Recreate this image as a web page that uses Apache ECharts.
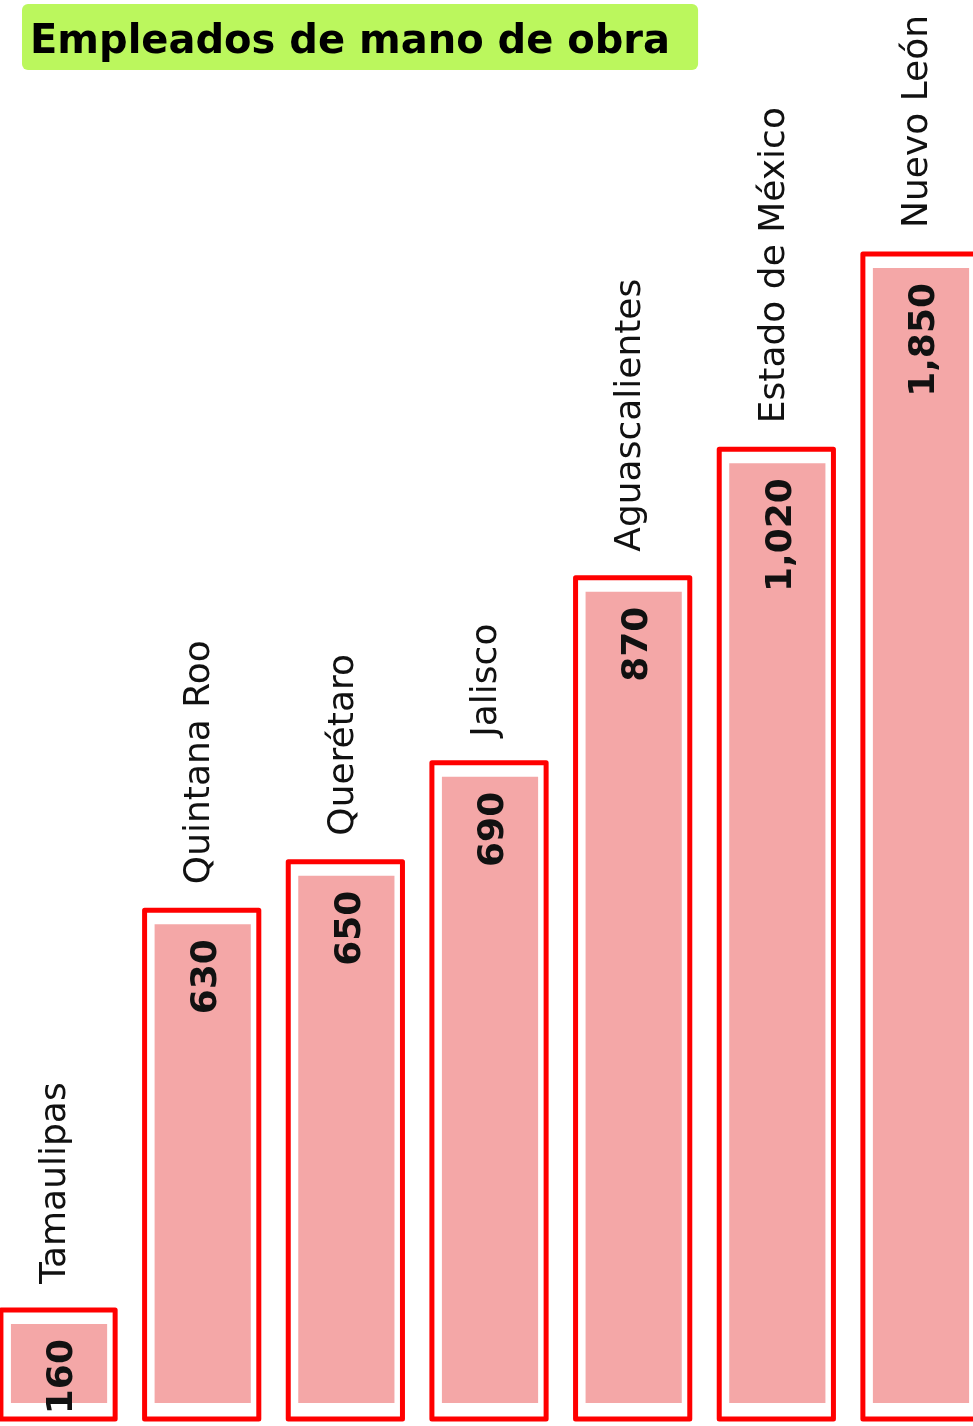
<!DOCTYPE html>
<html>
<head>
<meta charset="utf-8">
<script src="https://cdn.jsdelivr.net/npm/echarts@6/dist/echarts.min.js"></script>
<style>
  html, body { margin: 0; padding: 0; background: #ffffff; }
  #chart { width: 973px; height: 1426px; }
</style>
</head>
<body>
<div id="chart"></div>
<script>
// Categories (states)
var categories = ['Tamaulipas', 'Quintana Roo', 'Querétaro', 'Jalisco', 'Aguascalientes', 'Estado de México', 'Nuevo León'];
// Labelled values (number of labour employees)
var values = [160, 630, 650, 690, 870, 1020, 1850];
// Drawn bar heights (same scale as Nuevo León = 1850)
var drawnHeights = [173, 808, 885, 1042, 1336, 1540, 1850];
var chartTitle = 'Empleados de mano de obra';

function fmt(v) { return v.toLocaleString('en-US'); }

var chart = echarts.init(document.getElementById('chart'), null, { renderer: 'canvas' });

function renderItem(params, api) {
  var cat = api.value(0);
  var h = api.value(1);
  var top = api.coord([cat, h]);
  var base = api.coord([cat, 0]);
  var band = api.size([1, 0])[0];
  var w = band * 0.795;
  var x0 = top[0] - w / 2;
  var idx = params.dataIndex;
  var hh = base[1] - top[1];
  return {
    type: 'group',
    children: [
      {
        type: 'rect',
        shape: { x: x0 + 10, y: top[1] + 14, width: w - 18, height: hh - 30 },
        style: { fill: '#f4a7a7' }
      },
      {
        type: 'rect',
        shape: { x: x0, y: top[1], width: w, height: hh },
        style: { fill: 'none', stroke: '#ff0000', lineWidth: 5, lineJoin: 'round' }
      },
      {
        type: 'text',
        x: top[0] + 5,
        y: top[1] + 29,
        rotation: Math.PI / 2,
        style: {
          text: fmt(values[idx]),
          align: 'right',
          verticalAlign: 'middle',
          fontFamily: '"DejaVu Sans", sans-serif',
          fontWeight: 'bold',
          fontSize: 36,
          fill: '#111111'
        }
      },
      {
        type: 'text',
        x: top[0] - 2,
        y: top[1] - 26,
        rotation: Math.PI / 2,
        style: {
          text: categories[idx],
          align: 'left',
          verticalAlign: 'middle',
          fontFamily: '"DejaVu Sans", sans-serif',
          fontSize: 36,
          fill: '#111111'
        }
      }
    ]
  };
}

var option = {
  backgroundColor: '#ffffff',
  animation: false,
  title: {
    text: chartTitle,
    left: 22,
    top: 4,
    padding: [12, 28, 0, 8],
    backgroundColor: '#bbf75d',
    borderRadius: 6,
    textStyle: {
      fontFamily: '"DejaVu Sans", sans-serif',
      fontWeight: 'bold',
      fontSize: 40,
      lineHeight: 54,
      color: '#000000'
    }
  },
  grid: { left: 0, right: 0, top: 254, bottom: 7 },
  xAxis: { type: 'value', min: -0.404, max: 6.369, show: false },
  yAxis: { type: 'value', min: 0, max: 1850, show: false },
  series: [{
    type: 'custom',
    renderItem: renderItem,
    clip: false,
    data: categories.map(function (c, i) { return [i, drawnHeights[i]]; })
  }]
};
chart.setOption(option);
</script>
</body>
</html>
